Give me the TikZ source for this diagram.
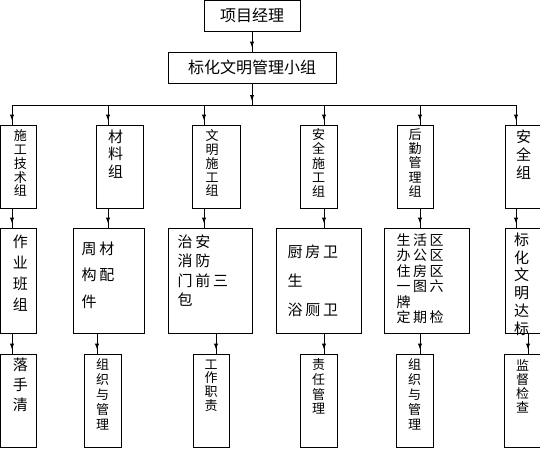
\documentclass[tikz,border=0pt]{standalone}
\usepackage{fontspec}
\newfontfamily\cjk{Noto Sans CJK SC}
\newfontfamily\cjkwide[LetterSpace=18]{Noto Sans CJK SC}
\protected\def\tightlines{\lineskiplimit=-50pt\relax}
\usetikzlibrary{positioning, arrows.meta, decorations.markings}
\tikzset{
  unit/.style   = {draw, line width=1pt, inner sep=0pt},
  rowa/.style   = {unit, minimum height=83},
  rowb/.style   = {unit, minimum height=105},
  rowc/.style   = {unit, minimum height=93},
  head/.style   = {unit, minimum height=31, font=\cjk\fontsize{16}{16}\selectfont},
  vtext/.style  = {font={\cjk\fontsize{15}{#1}\selectfont\tightlines}, align=center, inner sep=0pt},
  svtext/.style = {font={\cjk\fontsize{13}{#1}\selectfont\tightlines}, align=center, inner sep=0pt},
  htext/.style  = {font={\cjkwide\fontsize{15}{#1}\selectfont\tightlines}, align=left, inner sep=0pt},
  shtext/.style = {font={\cjkwide\fontsize{14}{#1}\selectfont\tightlines}, align=left, inner sep=0pt},
  wire/.style   = {line width=1pt},
  conn/.style   = {wire, postaction={decorate},
                   decoration={markings, mark=at position -4pt with {\arrow{Latex[length=6pt,width=4.5pt]}}}},
}
\begin{document}
\begin{tikzpicture}[x=1pt, y=-1pt]
    \clip (0,0) rectangle (540,448);

    % top of the chart
    \node[head, minimum width=96] (pm) at (252,15.75) {项目经理};
    \node[head, minimum width=168] (grp) at (252,67.5) {标化文明管理小组};

    % groups
    \node[rowa, minimum width=35.5] (r1c1) at (18.25,166.5) {};
    \node[rowa, minimum width=47] (r1c2) at (119.5,166.5) {};
    \node[rowa, minimum width=48] (r1c3) at (216,166.5) {};
    \node[rowa, minimum width=37] (r1c4) at (318.5,166.5) {};
    \node[rowa, minimum width=36] (r1c5) at (415,166.5) {};
    \node[rowa, minimum width=37] (r1c6) at (523.5,166.5) {};

    \node[svtext=13.8, below=5pt of r1c1.north, xshift=2pt] (t11) {施\\工\\技\\术\\组};
    \node[vtext=17.5, below=5pt of r1c2.north, xshift=-4pt] (t12) {材\\料\\组};
    \node[svtext=13.8, below=5pt of r1c3.north, xshift=-4pt] (t13) {文\\明\\施\\工\\组};
    \node[svtext=14.2, below=4pt of r1c4.north] (t14) {安\\全\\施\\工\\组};
    \node[svtext=14.2, below=4pt of r1c5.north] (t15) {后\\勤\\管\\理\\组};
    \node[vtext=18, below=5pt of r1c6.north] (t16) {安\\全\\组};

    % tasks
    \node[rowb, minimum width=35.5] (r2c1) at (18.25,280.5) {};
    \node[rowb, minimum width=71] (r2c2) at (108.5,280.5) {};
    \node[rowb, minimum width=84] (r2c3) at (210,280.5) {};
    \node[rowb, minimum width=85] (r2c4) at (318.5,280.5) {};
    \node[rowb, minimum width=85] (r2c5) at (426.5,280.5) {};
    \node[rowb, minimum width=37] (r2c6) at (523.5,280.5) {};

    \node[vtext=21, below=7pt of r2c1.north, xshift=2pt] (t21) {作\\业\\班\\组};
    \node[htext=26.5, below right=14pt and 9pt of r2c2.north west] (t22) {周材\\构配\\件};
    \node[htext=19.5, below right=7pt and 10pt of r2c3.north west] (t23) {治安\\消防\\门前三\\包};
    \node[htext=29, below right=17pt and 12pt of r2c4.north west] (t24) {厨房卫\\生\\浴厕卫};
    \node[shtext=15.5, below right=6pt and 13pt of r2c5.north west] (t25) {生活区\\办公区\\住房区\\一图六\\牌\\定期检};
    \node[vtext=17.8, below=5pt of r2c6.north, xshift=-2pt] (t26) {标\\化\\文\\明\\达\\标};

    % duties
    \node[rowc, minimum width=35.5] (r3c1) at (18.25,400.5) {};
    \node[rowc, minimum width=37] (r3c2) at (102.5,400.5) {};
    \node[rowc, minimum width=36] (r3c3) at (211,400.5) {};
    \node[rowc, minimum width=37] (r3c4) at (318.5,400.5) {};
    \node[rowc, minimum width=37] (r3c5) at (414.5,400.5) {};
    \node[rowc, minimum width=37] (r3c6) at (522.5,400.5) {};

    \node[vtext=20, below=4pt of r3c1.north, xshift=2pt] (t31) {落\\手\\清};
    \node[svtext=15, below=5pt of r3c2.north] (t32) {组\\织\\与\\管\\理};
    \node[svtext=13.8, below=6pt of r3c3.north] (t33) {工\\作\\职\\责};
    \node[svtext=14.7, below=5pt of r3c4.north] (t34) {责\\任\\管\\理};
    \node[svtext=15, below=5pt of r3c5.north] (t35) {组\\织\\与\\管\\理};
    \node[svtext=13.8, below=6pt of r3c6.north] (t36) {监\\督\\检\\查};

    % bus
    \coordinate (bus) at (252,105);
    \coordinate (d1) at (12,105);
    \coordinate (d2) at (108,105);
    \coordinate (d3) at (204,105);
    \coordinate (d4) at (324,105);
    \coordinate (d5) at (420,105);
    \coordinate (d6) at (516,105);
    \coordinate (e2) at (97,344);
    \coordinate (e3) at (216,344);
    \coordinate (e6) at (528,344);

    \draw[conn] (pm) -- (grp);
    \draw[conn] (grp) -- (bus);
    \draw[wire] (d1) -- (d6);

    % bus -> groups
    \draw[conn] (d1) -- (d1 |- r1c1.north);
    \draw[conn] (d2) -- (d2 |- r1c2.north);
    \draw[conn] (d3) -- (d3 |- r1c3.north);
    \draw[conn] (d4) -- (d4 |- r1c4.north);
    \draw[conn] (d5) -- (d5 |- r1c5.north);
    \draw[conn] (d6) -- (d6 |- r1c6.north);

    % groups -> tasks
    \draw[conn] (d1 |- r1c1.south) -- (d1 |- r2c1.north);
    \draw[conn] (d2 |- r1c2.south) -- (d2 |- r2c2.north);
    \draw[conn] (d3 |- r1c3.south) -- (d3 |- r2c3.north);
    \draw[conn] (d4 |- r1c4.south) -- (d4 |- r2c4.north);
    \draw[conn] (d5 |- r1c5.south) -- (d5 |- r2c5.north);
    \draw[conn] (d6 |- r1c6.south) -- (d6 |- r2c6.north);

    % tasks -> duties
    \draw[conn] (d1 |- r2c1.south) -- (d1 |- r3c1.north);
    \draw[conn] (e2 |- r2c2.south) -- (e2 |- r3c2.north);
    \draw[conn] (e3 |- r2c3.south) -- (e3 |- r3c3.north);
    \draw[conn] (d4 |- r2c4.south) -- (d4 |- r3c4.north);
    \draw[conn] (d5 |- r2c5.south) -- (d5 |- r3c5.north);
    \draw[conn] (e6 |- r2c6.south) -- (e6 |- r3c6.north);
\end{tikzpicture}
\end{document}
